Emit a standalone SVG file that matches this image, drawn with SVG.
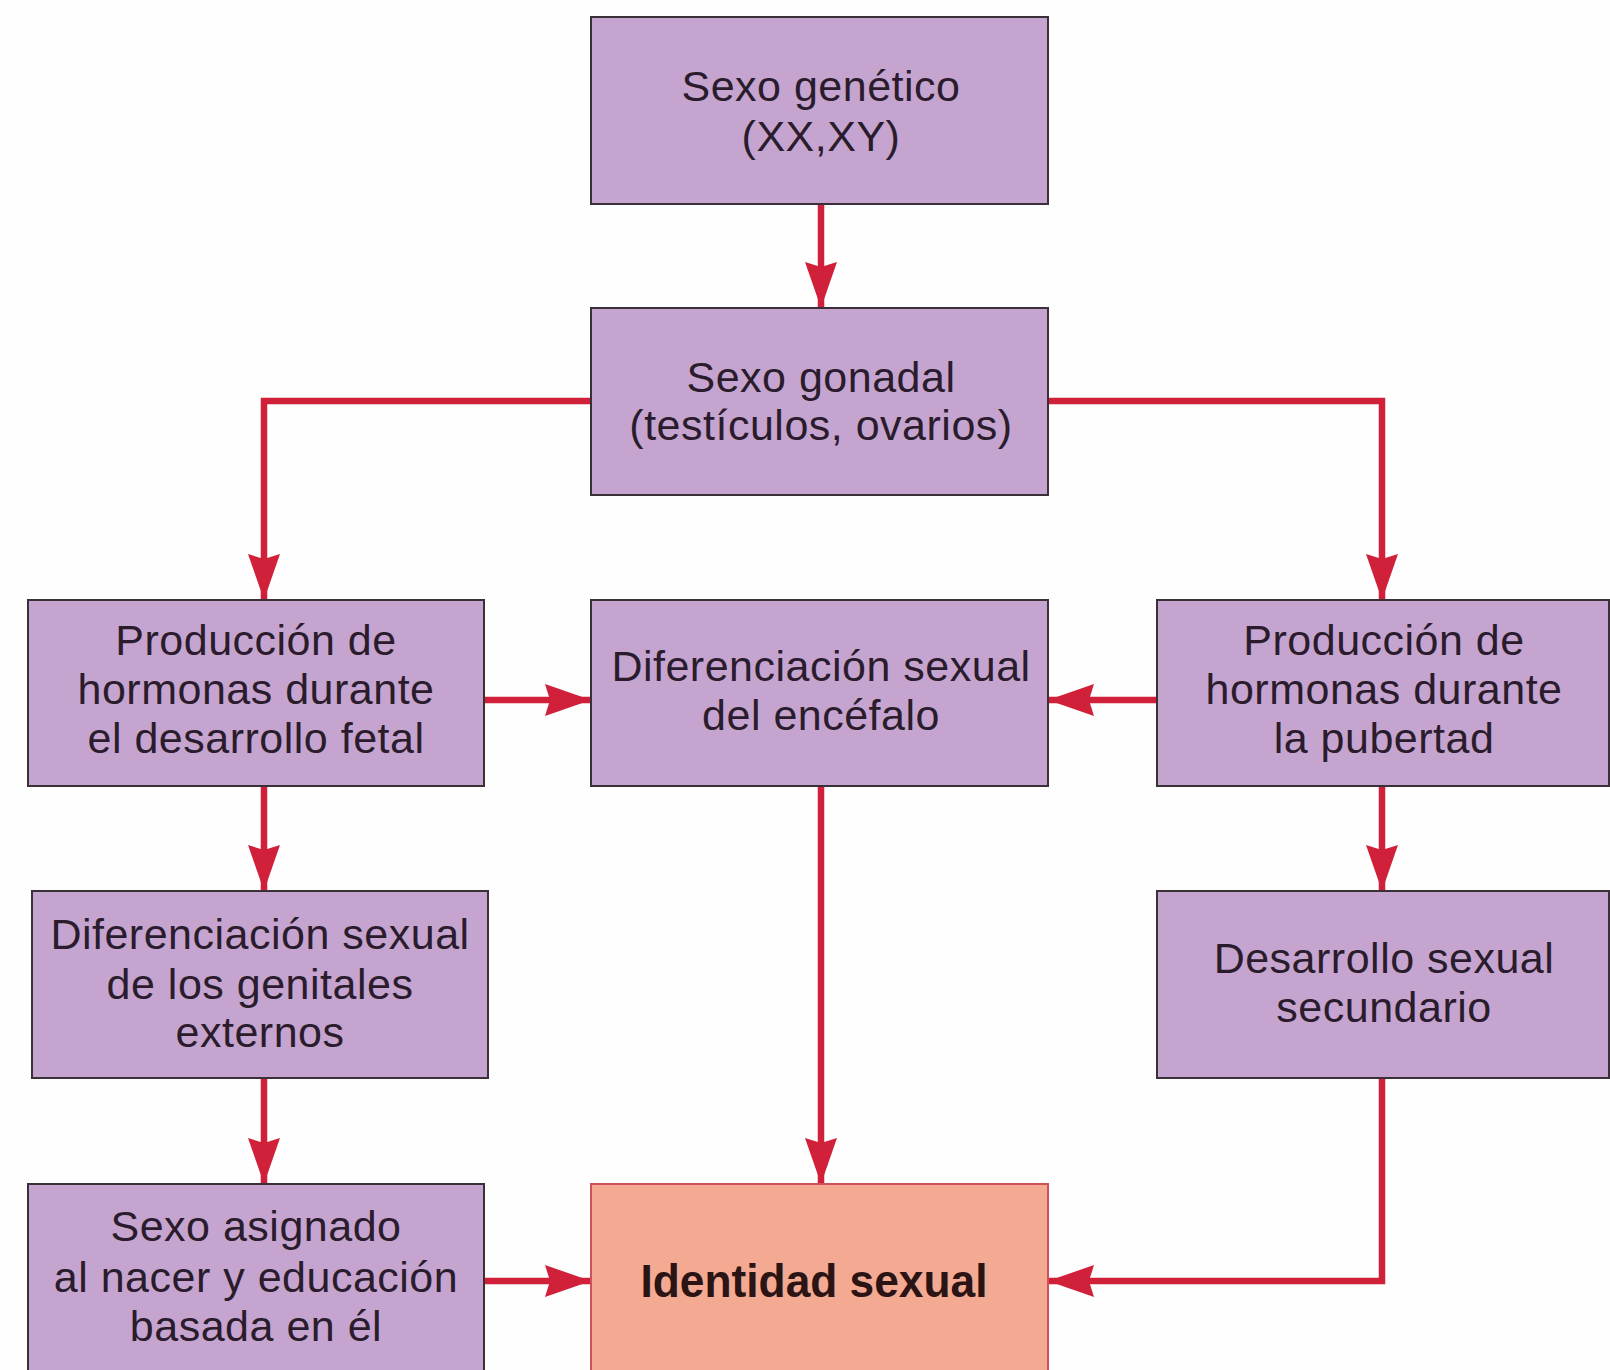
<svg xmlns="http://www.w3.org/2000/svg" width="1610" height="1370" viewBox="0 0 1610 1370">
<defs>
<style>
.box{fill:#c5a5cf;stroke:#3a3038;stroke-width:2}
.id{fill:#f4aa92;stroke:#d0505a;stroke-width:2}
.t{font-family:"Liberation Sans",Arial,sans-serif;font-size:43px;fill:#2a1c2c;text-anchor:middle;letter-spacing:0.5px}
.b{font-family:"Liberation Sans",Arial,sans-serif;font-size:47px;font-weight:bold;fill:#2a1414;text-anchor:middle}
.c{fill:none;stroke:#d0203a;stroke-width:6.5;marker-end:url(#ah)}
</style>
<marker id="ah" markerUnits="userSpaceOnUse" markerWidth="48" markerHeight="34" refX="46" refY="16" orient="auto" viewBox="0 0 48 34">
<path d="M0,0 L46,16 L0,32 L5,16 Z" fill="#d0203a"/>
</marker>
</defs>
<rect width="1610" height="1370" fill="#fdfefd"/>
<g id="connectors">
<path class="c" d="M821,204 V308"/>
<path class="c" d="M591,401 H264 V600"/>
<path class="c" d="M1048,401 H1382 V600"/>
<path class="c" d="M484,700 H591"/>
<path class="c" d="M1157,700 H1048"/>
<path class="c" d="M264,786 V891"/>
<path class="c" d="M1382,786 V891"/>
<path class="c" d="M821,786 V1184"/>
<path class="c" d="M264,1078 V1184"/>
<path class="c" d="M484,1281 H591"/>
<path class="c" d="M1382,1078 V1281 H1048"/>
</g>
<g id="n1"><rect class="box" x="591" y="17" width="457" height="187"/>
<text class="t" x="821" y="101">Sexo genético</text><text class="t" x="821" y="151">(XX,XY)</text></g>
<g id="n2"><rect class="box" x="591" y="308" width="457" height="187"/>
<text class="t" x="821" y="392">Sexo gonadal</text><text class="t" x="821" y="440">(testículos, ovarios)</text></g>
<g id="n3"><rect class="box" x="28" y="600" width="456" height="186"/>
<text class="t" x="256" y="655">Producción de</text><text class="t" x="256" y="704">hormonas durante</text><text class="t" x="256" y="753">el desarrollo fetal</text></g>
<g id="n4"><rect class="box" x="591" y="600" width="457" height="186"/>
<text class="t" x="821" y="681">Diferenciación sexual</text><text class="t" x="821" y="730">del encéfalo</text></g>
<g id="n5"><rect class="box" x="1157" y="600" width="452" height="186"/>
<text class="t" x="1384" y="655">Producción de</text><text class="t" x="1384" y="704">hormonas durante</text><text class="t" x="1384" y="753">la pubertad</text></g>
<g id="n6"><rect class="box" x="32" y="891" width="456" height="187"/>
<text class="t" x="260" y="949">Diferenciación sexual</text><text class="t" x="260" y="999">de los genitales</text><text class="t" x="260" y="1047">externos</text></g>
<g id="n7"><rect class="box" x="1157" y="891" width="452" height="187"/>
<text class="t" x="1384" y="973">Desarrollo sexual</text><text class="t" x="1384" y="1022">secundario</text></g>
<g id="n8"><rect class="box" x="28" y="1184" width="456" height="190"/>
<text class="t" x="256" y="1241">Sexo asignado</text><text class="t" x="256" y="1292">al nacer y educación</text><text class="t" x="256" y="1341">basada en él</text></g>
<g id="n9"><rect class="id" x="591" y="1184" width="457" height="190"/>
<text class="b" x="814" y="1297" textLength="347" lengthAdjust="spacingAndGlyphs">Identidad sexual</text></g>
</svg>
